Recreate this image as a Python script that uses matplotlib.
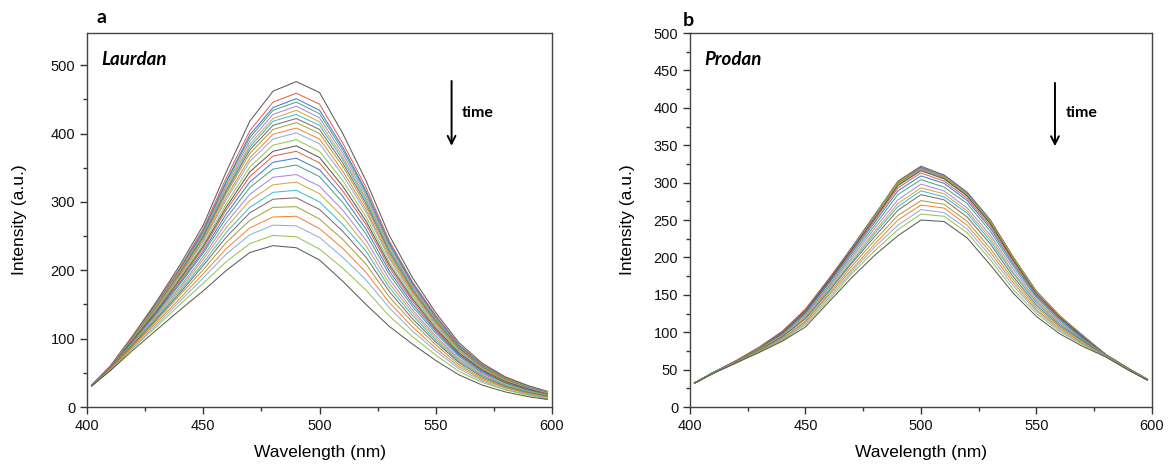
"""Laurdan / Prodan emission spectra over time, two panels."""

import matplotlib

matplotlib.use("Agg")
import matplotlib.pyplot as plt
from matplotlib.ticker import MultipleLocator

WAVELENGTHS = [402, 410, 420, 430, 440, 450, 460, 470, 480, 490, 500,
               510, 520, 530, 540, 550, 560, 570, 580, 590, 598]

# Laurdan spectra, first (top) to last (bottom) time point
LAURDAN = [
    [32, 60, 106, 155, 208, 266, 345, 418, 462, 476, 460, 400, 331, 251, 189, 138, 94, 64, 44, 31, 23],
    [32, 60, 105, 153, 204, 261, 336, 404, 446, 459, 443, 386, 321, 243, 183, 134, 91, 62, 43, 30, 22],
    [32, 59, 104, 151, 202, 258, 331, 398, 438, 451, 434, 380, 316, 240, 181, 132, 90, 61, 42, 30, 22],
    [32, 59, 104, 151, 201, 256, 329, 394, 434, 446, 429, 376, 313, 238, 179, 131, 89, 61, 42, 29, 22],
    [32, 59, 103, 150, 200, 254, 325, 389, 428, 440, 423, 371, 309, 235, 177, 130, 88, 60, 41, 29, 22],
    [32, 59, 103, 149, 199, 252, 322, 384, 422, 434, 417, 366, 305, 232, 175, 128, 87, 59, 41, 29, 21],
    [32, 59, 102, 148, 197, 251, 319, 380, 418, 428, 412, 362, 302, 230, 173, 127, 86, 59, 40, 28, 21],
    [32, 59, 102, 147, 196, 249, 316, 376, 412, 422, 406, 357, 298, 227, 171, 125, 86, 58, 40, 28, 21],
    [32, 59, 102, 147, 195, 247, 313, 371, 406, 416, 400, 352, 294, 224, 169, 124, 85, 58, 40, 28, 21],
    [32, 58, 101, 145, 193, 244, 308, 364, 399, 408, 392, 345, 289, 220, 167, 122, 83, 57, 39, 27, 20],
    [32, 58, 100, 144, 191, 242, 304, 359, 392, 401, 385, 339, 285, 217, 164, 120, 82, 56, 38, 27, 20],
    [32, 58, 100, 143, 189, 238, 298, 351, 383, 391, 374, 331, 278, 212, 161, 118, 80, 55, 38, 26, 20],
    [32, 58, 99, 141, 187, 235, 293, 344, 374, 382, 365, 323, 272, 208, 158, 115, 79, 54, 37, 26, 19],
    [31, 58, 98, 140, 185, 232, 289, 337, 367, 374, 357, 316, 267, 204, 155, 113, 77, 53, 36, 25, 19],
    [31, 57, 97, 139, 182, 228, 283, 329, 358, 364, 347, 308, 260, 199, 151, 111, 76, 52, 35, 25, 18],
    [31, 57, 97, 137, 180, 225, 277, 321, 348, 354, 337, 299, 253, 194, 147, 108, 74, 50, 35, 24, 18],
    [31, 57, 95, 135, 176, 220, 270, 311, 336, 340, 323, 288, 244, 187, 142, 104, 71, 49, 33, 23, 17],
    [31, 56, 94, 133, 173, 216, 263, 302, 325, 329, 312, 278, 236, 181, 138, 101, 69, 47, 32, 23, 17],
    [31, 56, 93, 131, 170, 211, 256, 292, 314, 317, 300, 267, 228, 175, 134, 98, 67, 46, 31, 22, 16],
    [31, 56, 92, 129, 167, 207, 249, 284, 304, 306, 289, 257, 219, 169, 129, 95, 65, 44, 30, 21, 16],
    [31, 55, 91, 127, 164, 201, 241, 273, 292, 293, 275, 245, 209, 161, 124, 91, 62, 42, 29, 20, 15],
    [31, 55, 90, 124, 159, 195, 232, 262, 278, 279, 261, 232, 197, 153, 117, 86, 59, 40, 28, 19, 14],
    [31, 54, 88, 121, 155, 189, 224, 252, 266, 265, 248, 219, 186, 145, 111, 82, 56, 38, 26, 18, 13],
    [31, 54, 87, 118, 150, 181, 213, 239, 251, 249, 231, 203, 171, 133, 103, 76, 52, 36, 25, 17, 12],
    [31, 53, 84, 113, 142, 170, 200, 226, 236, 233, 215, 184, 150, 118, 92, 68, 47, 32, 22, 15, 11],
]

# Prodan spectra, first to last time point
PRODAN = [
    [32, 46, 61, 79, 100, 130, 170, 213, 257, 302, 322, 310, 287, 250, 200, 154, 122, 95, 70, 51, 37],
    [32, 46, 62, 80, 101, 131, 171, 212, 256, 301, 321, 309, 286, 249, 199, 153, 121, 95, 70, 51, 37],
    [32, 45, 60, 79, 99, 129, 169, 213, 257, 300, 320, 310, 287, 250, 200, 155, 122, 96, 70, 51, 37],
    [32, 46, 61, 79, 100, 129, 169, 212, 255, 300, 320, 308, 285, 248, 199, 153, 121, 95, 70, 51, 37],
    [32, 46, 61, 80, 101, 130, 170, 211, 254, 299, 321, 309, 286, 247, 198, 152, 121, 94, 70, 51, 37],
    [32, 45, 61, 78, 99, 128, 168, 212, 256, 301, 319, 307, 284, 249, 200, 154, 122, 95, 69, 51, 37],
    [32, 46, 61, 79, 100, 129, 169, 211, 255, 299, 319, 307, 284, 248, 198, 153, 121, 94, 70, 51, 37],
    [32, 46, 62, 80, 101, 130, 170, 212, 254, 298, 320, 306, 283, 247, 197, 152, 120, 94, 70, 51, 37],
    [32, 45, 60, 78, 99, 128, 168, 210, 255, 300, 318, 308, 285, 249, 199, 154, 122, 95, 69, 51, 37],
    [32, 46, 61, 79, 99, 129, 168, 211, 254, 298, 318, 307, 284, 247, 197, 152, 121, 94, 70, 51, 37],
    [32, 46, 61, 78, 98, 128, 167, 210, 253, 297, 319, 306, 283, 246, 196, 152, 120, 94, 69, 51, 37],
    [32, 46, 61, 79, 99, 128, 168, 210, 253, 297, 317, 306, 283, 246, 197, 152, 120, 94, 70, 51, 37],
    [32, 46, 61, 78, 99, 128, 168, 210, 252, 296, 316, 305, 282, 245, 196, 151, 120, 94, 70, 51, 37],
    [32, 46, 61, 78, 99, 127, 166, 208, 250, 293, 313, 302, 279, 242, 194, 150, 119, 93, 70, 51, 37],
    [32, 46, 61, 78, 98, 126, 165, 206, 247, 289, 309, 299, 276, 239, 191, 148, 118, 92, 69, 51, 37],
    [32, 46, 60, 78, 97, 124, 162, 203, 243, 284, 304, 294, 272, 235, 188, 146, 116, 91, 69, 51, 37],
    [32, 46, 60, 77, 96, 122, 160, 200, 239, 277, 298, 289, 266, 230, 184, 143, 114, 90, 69, 50, 37],
    [32, 46, 60, 77, 95, 121, 158, 197, 235, 272, 293, 285, 262, 226, 180, 141, 112, 89, 69, 50, 37],
    [32, 46, 60, 76, 94, 119, 156, 194, 232, 268, 289, 281, 259, 222, 178, 139, 111, 89, 69, 50, 37],
    [32, 45, 60, 76, 94, 118, 154, 192, 228, 263, 284, 277, 254, 218, 174, 136, 109, 88, 68, 50, 36],
    [32, 45, 60, 75, 92, 115, 151, 188, 223, 256, 276, 271, 248, 212, 170, 133, 107, 86, 68, 50, 36],
    [32, 45, 60, 75, 91, 114, 149, 184, 218, 250, 270, 266, 243, 207, 166, 130, 105, 85, 68, 50, 36],
    [32, 45, 59, 74, 90, 112, 146, 181, 214, 243, 264, 260, 238, 202, 162, 128, 103, 84, 68, 49, 36],
    [32, 45, 59, 74, 89, 110, 143, 178, 209, 237, 258, 255, 233, 197, 157, 125, 101, 83, 67, 49, 36],
    [32, 45, 59, 73, 88, 107, 140, 173, 203, 229, 250, 248, 226, 190, 152, 121, 98, 81, 67, 49, 36],
]

CYCLE = ["#4a4a4a", "#e5503c", "#2f6fd0", "#3c9c70", "#a97ad8", "#c9a230",
         "#2ab8c8", "#7a5c5c", "#9c9a2c", "#f07a2a", "#80a8da", "#8cc040"]

SANS = ["Liberation Sans", "DejaVu Sans"]
LABEL_FONT = ["Lato", "Liberation Sans", "DejaVu Sans"]


def draw_panel(ax, curves, name, letter, letter_xy, ylim, ymajor, yminor,
               ylabelpad, arrow_x, arrow_y0, arrow_y1, time_y):
    for i, row in enumerate(curves):
        ax.plot(WAVELENGTHS, row, color=CYCLE[i % len(CYCLE)], lw=0.75, alpha=0.9)
    ax.set_xlim(400, 600)
    ax.set_ylim(*ylim)
    ax.xaxis.set_major_locator(MultipleLocator(50))
    ax.xaxis.set_minor_locator(MultipleLocator(25))
    ax.yaxis.set_major_locator(MultipleLocator(ymajor))
    ax.yaxis.set_minor_locator(MultipleLocator(yminor))
    ax.tick_params(which="both", direction="out", top=False, right=False,
                   colors="#333333", labelcolor="#111111", width=1.0)
    ax.tick_params(which="major", length=5, labelsize=10.5)
    ax.tick_params(which="minor", length=3)
    for lab in ax.get_xticklabels() + ax.get_yticklabels():
        lab.set_family(SANS)
    for sp in ax.spines.values():
        sp.set_color("#444444")
        sp.set_linewidth(1.0)
    ax.set_xlabel("Wavelength (nm)", fontsize=12.5, family=SANS, labelpad=9)
    ax.set_ylabel("Intensity (a.u.)", fontsize=12.5, family=SANS, labelpad=ylabelpad)
    ax.text(0.03, 0.93, name, transform=ax.transAxes, fontsize=13.5, style="italic",
            fontweight="bold", family=LABEL_FONT, va="center", ha="left")
    ax.text(letter_xy[0], letter_xy[1], letter, transform=ax.transAxes, fontsize=14,
            fontweight="bold", family=LABEL_FONT, va="bottom", ha="left")
    ax.annotate("", xy=(arrow_x, arrow_y1), xytext=(arrow_x, arrow_y0),
                arrowprops=dict(arrowstyle="->", lw=1.4, color="black", mutation_scale=14))
    ax.text(arrow_x + 4.5, time_y, "time", fontsize=11.5, fontweight="bold",
            family=LABEL_FONT, va="center", ha="left")


def main():
    fig = plt.figure(figsize=(11.73, 4.70), dpi=100)
    ax_a = fig.add_axes([0.0742, 0.134, 0.3964, 0.7957])
    ax_b = fig.add_axes([0.5882, 0.134, 0.3939, 0.7957])
    draw_panel(ax_a, LAURDAN, "Laurdan", "a", (0.02, 1.02), (0, 547), 100, 50, 17,
               556.8, 481, 378, 430)
    draw_panel(ax_b, PRODAN, "Prodan", "b", (-0.015, 1.01), (0, 500), 50, 25, 13.5,
               558, 437, 345, 393)
    fig.savefig("out.png", dpi=100)
    plt.close(fig)


if __name__ == "__main__":
    main()
